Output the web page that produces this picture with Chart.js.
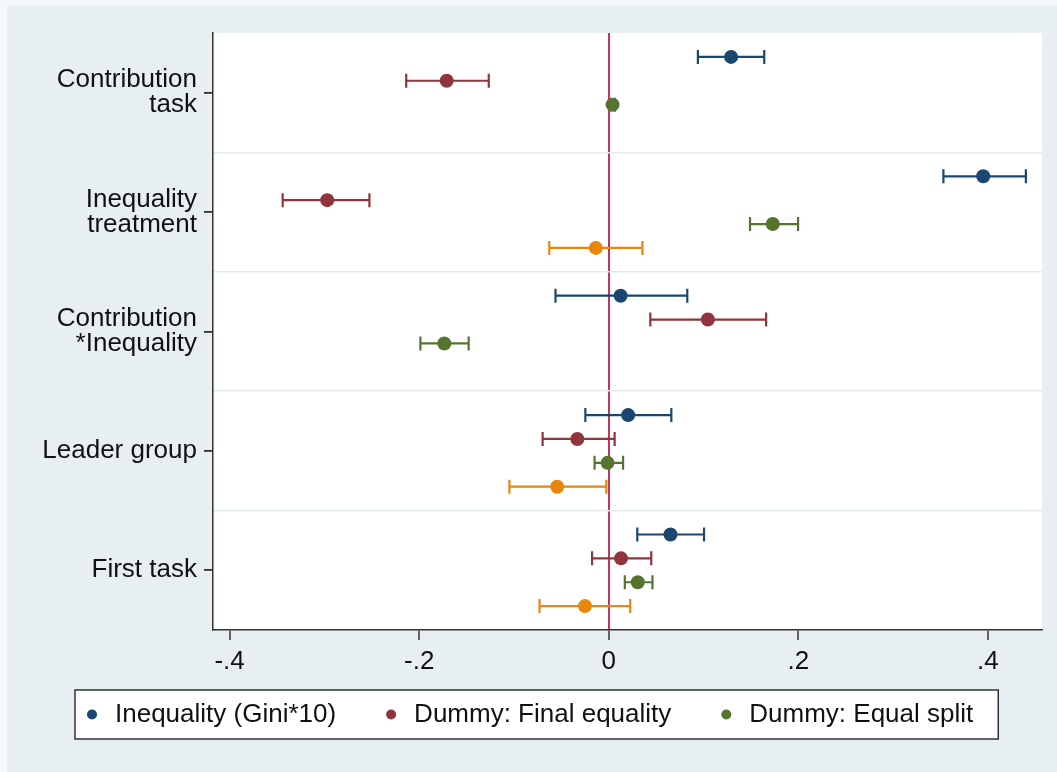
<!DOCTYPE html>
<html>
<head>
<meta charset="utf-8">
<script src="https://cdn.jsdelivr.net/npm/chart.js@4.4.1/dist/chart.umd.min.js"></script>
<style>
  html, body { margin: 0; padding: 0; background: #ffffff; }
  #wrap { width: 1057px; height: 772px; position: relative; }
  canvas { display: block; }
</style>
</head>
<body>
<div id="wrap"><canvas id="c" width="1057" height="772"></canvas></div>
<script>
// ---------- DATA ----------
const categories = [["Contribution", "task"], ["Inequality", "treatment"], ["Contribution", "*Inequality"], "Leader group", "First task"];
const seriesNames = ["Inequality (Gini*10)", "Dummy: Final equality", "Dummy: Equal split", "Series 4"];
const seriesInLegend = [true, true, true, false];

const giniCoef  = [0.129, 0.395, 0.0125, 0.0204, 0.0651];
const giniLow   = [0.094, 0.353, -0.0562, -0.0247, 0.0301];
const giniHigh  = [0.164, 0.440, 0.0828, 0.066, 0.1005];

const finalEqCoef = [-0.171, -0.297, 0.1045, -0.0332, 0.0129];
const finalEqLow  = [-0.2137, -0.344, 0.0438, -0.0698, -0.0176];
const finalEqHigh = [-0.1266, -0.2525, 0.166, 0.0062, 0.0448];

const eqSplitCoef = [0.004, 0.173, -0.1735, -0.0013, 0.0306];
const eqSplitLow  = [0.0015, 0.149, -0.1987, -0.015, 0.0169];
const eqSplitHigh = [0.0065, 0.1997, -0.1478, 0.0151, 0.0461];

const fourthCoef = [null, -0.0137, null, -0.0544, -0.0251];
const fourthLow  = [null, -0.0628, null, -0.1048, -0.073];
const fourthHigh = [null, 0.0355, null, -0.0026, 0.0226];

const xTickValues = [-0.4, -0.2, 0, 0.2, 0.4];
const xTickLabels = ["-.4", "-.2", "0", ".2", ".4"];

// ---------- STYLE ----------
const seriesColors = ["#1a476f", "#90353b", "#55752f", "#e8870e"];
const FONT = '"Liberation Sans", Arial, Helvetica, sans-serif';

const seriesCoef = [giniCoef, finalEqCoef, eqSplitCoef, fourthCoef];
const seriesLow  = [giniLow, finalEqLow, eqSplitLow, fourthLow];
const seriesHigh = [giniHigh, finalEqHigh, eqSplitHigh, fourthHigh];
const nSeries = seriesCoef.length;

const datasets = seriesCoef.map((coefs, s) => {
  const pts = [];
  coefs.forEach((v, i) => {
    if (v === null) return;
    pts.push({ x: v, y: i + (s - (nSeries - 1) / 2) * 0.2, lo: seriesLow[s][i], hi: seriesHigh[s][i] });
  });
  return {
    label: seriesNames[s],
    showInLegend: seriesInLegend[s],
    data: pts,
    backgroundColor: seriesColors[s],
    borderColor: seriesColors[s],
    borderWidth: 0,
    pointRadius: 7,
    pointHoverRadius: 7,
    showLine: false
  };
});

// ---------- PLUGINS ----------
const backgroundPlugin = {
  id: 'bgPlugin',
  beforeDraw(chart) {
    const { ctx, chartArea } = chart;
    ctx.save();
    ctx.fillStyle = '#f5f8f9';
    ctx.fillRect(0, 0, chart.width, chart.height);
    ctx.fillStyle = '#e8eff2';
    ctx.fillRect(7, 5, chart.width - 7, chart.height - 5);
    ctx.fillStyle = '#ffffff';
    ctx.fillRect(chartArea.left, chartArea.top, chartArea.right - chartArea.left, chartArea.bottom - chartArea.top);
    ctx.restore();
  }
};

const errorBarPlugin = {
  id: 'errorBars',
  beforeDatasetsDraw(chart) {
    const { ctx } = chart;
    const xs = chart.scales.x, ys = chart.scales.y;
    chart.data.datasets.forEach(ds => {
      ctx.save();
      ctx.strokeStyle = ds.borderColor;
      ctx.lineWidth = 2.2;
      ds.data.forEach(p => {
        const yp = ys.getPixelForValue(p.y);
        const x1 = xs.getPixelForValue(p.lo);
        const x2 = xs.getPixelForValue(p.hi);
        ctx.beginPath();
        ctx.moveTo(x1, yp); ctx.lineTo(x2, yp);
        ctx.moveTo(x1, yp - 7); ctx.lineTo(x1, yp + 7);
        ctx.moveTo(x2, yp - 7); ctx.lineTo(x2, yp + 7);
        ctx.stroke();
      });
      ctx.restore();
    });
  }
};

const legendPlugin = {
  id: 'boxLegend',
  afterDraw(chart) {
    const { ctx } = chart;
    const items = chart.data.datasets.filter(d => d.showInLegend);
    ctx.save();
    ctx.font = '26px ' + FONT;
    const boxLeft = 75, boxTop = 690, boxH = 49;
    const baseY = 722, dotY = 714.5;
    let x = boxLeft + 17;
    const laid = items.map(d => {
      const w = ctx.measureText(d.label).width;
      const it = { d, dot: x, tx: x + 23, w };
      x = x + 23 + w + 55;
      return it;
    });
    const last = laid[laid.length - 1];
    const boxRight = last.tx + last.w + 25;
    ctx.fillStyle = '#ffffff';
    ctx.fillRect(boxLeft, boxTop, boxRight - boxLeft, boxH);
    ctx.strokeStyle = '#333333';
    ctx.lineWidth = 1.5;
    ctx.strokeRect(boxLeft, boxTop, boxRight - boxLeft, boxH);
    laid.forEach(it => {
      ctx.fillStyle = it.d.backgroundColor;
      ctx.beginPath();
      ctx.arc(it.dot, dotY, 5, 0, Math.PI * 2);
      ctx.fill();
      ctx.fillStyle = '#111111';
      ctx.textBaseline = 'alphabetic';
      ctx.textAlign = 'left';
      ctx.fillText(it.d.label, it.tx, baseY);
    });
    ctx.restore();
  }
};

// ---------- CHART ----------
const yMin = -0.5, yMax = categories.length - 0.5;

new Chart(document.getElementById('c'), {
  type: 'scatter',
  data: { datasets },
  plugins: [backgroundPlugin, errorBarPlugin, legendPlugin],
  options: {
    responsive: false,
    animation: false,
    devicePixelRatio: 1,
    layout: { padding: { top: 33, right: 15, bottom: 72, left: 0 } },
    plugins: { legend: { display: false }, tooltip: { enabled: false } },
    scales: {
      x: {
        type: 'linear',
        min: -0.4175,
        max: 0.457,
        afterBuildTicks: s => { s.ticks = xTickValues.map(v => ({ value: v })); },
        afterFit: s => { s.height = 70; },
        ticks: {
          callback: (v, i) => xTickLabels[i],
          font: { family: FONT, size: 26 },
          color: '#111111',
          padding: 6,
          maxRotation: 0,
          autoSkip: false
        },
        grid: {
          color: c => (c.tick && c.tick.value === 0) ? '#c8325e' : 'rgba(0,0,0,0)',
          lineWidth: 2,
          drawTicks: true,
          tickColor: '#333333',
          tickLength: 10,
          tickWidth: 1.5
        },
        border: { display: true, color: '#333333', width: 1.5 }
      },
      y: {
        type: 'linear',
        position: 'left',
        reverse: true,
        min: yMin,
        max: yMax,
        afterBuildTicks: s => { s.ticks = categories.map((c, i) => ({ value: i })); },
        afterFit: s => { s.width = 213; },
        ticks: {
          callback: (v, i) => categories[i],
          font: { family: FONT, size: 26, lineHeight: 0.96 },
          color: '#111111',
          padding: 7,
          autoSkip: false
        },
        grid: {
          drawOnChartArea: false,
          drawTicks: true,
          tickLength: 9,
          tickColor: '#333333',
          tickWidth: 1.8,
          lineWidth: 1.8
        },
        border: { display: true, color: '#333333', width: 1.5 }
      },
      yg: {
        type: 'linear',
        position: 'right',
        reverse: true,
        min: yMin,
        max: yMax,
        afterBuildTicks: s => { s.ticks = categories.slice(1).map((c, i) => ({ value: i + 0.5 })); },
        afterFit: s => { s.width = 0; },
        ticks: { display: false },
        grid: { drawTicks: false, color: '#e4ebee', lineWidth: 1.5 },
        border: { display: false }
      }
    }
  }
});
</script>
</body>
</html>
